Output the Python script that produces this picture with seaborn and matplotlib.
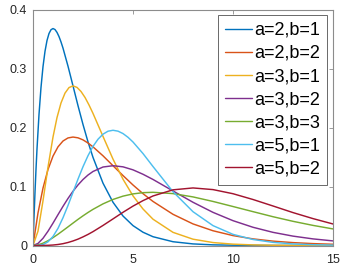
import numpy as np
import pandas as pd
import matplotlib
matplotlib.use("Agg")
import matplotlib.pyplot as plt
import seaborn as sns

# common x grid
x = [0, 0.25, 0.5, 0.75, 1, 1.25, 1.5, 1.75, 2, 2.25, 2.5, 2.75, 3, 3.5, 4, 4.5,
     5, 5.5, 6, 7, 8, 9, 10, 11, 12, 13, 14, 15]

# finer grid for the sharp a=2,b=1 curve
x_a2b1 = [0, 0.05, 0.1, 0.15, 0.2, 0.3, 0.4, 0.5, 0.6, 0.7, 0.8, 0.9, 1.0, 1.1, 1.2,
          1.3, 1.4, 1.5, 1.75, 2, 2.25, 2.5, 2.75, 3, 3.5, 4, 4.5, 5, 5.5, 6, 7, 8,
          9, 10, 12, 15]
a2b1 = [0, 0.0476, 0.0905, 0.1291, 0.1637, 0.2222, 0.2681, 0.3033, 0.3293, 0.3476,
        0.3595, 0.3659, 0.3679, 0.3662, 0.3614, 0.3543, 0.3452, 0.3347, 0.3041,
        0.2707, 0.2371, 0.2052, 0.1757, 0.1494, 0.1057, 0.0733, 0.0500, 0.0337,
        0.0225, 0.0149, 0.0064, 0.0027, 0.0011, 0.0005, 0.0001, 0.0000]

a2b2 = [0, 0.0552, 0.0974, 0.1289, 0.1516, 0.1673, 0.1772, 0.1824, 0.1839, 0.1826,
        0.1791, 0.1738, 0.1673, 0.1521, 0.1353, 0.1186, 0.1026, 0.0879, 0.0747,
        0.0529, 0.0366, 0.0250, 0.0168, 0.0112, 0.0074, 0.0049, 0.0032, 0.0021]

x_a3b1 = [0, 0.25, 0.5, 0.75, 1, 1.2, 1.4, 1.6, 1.8, 2.0, 2.2, 2.4, 2.6, 2.8, 3,
          3.5, 4, 4.5, 5, 5.5, 6, 7, 8, 9, 10, 11, 12, 13, 14, 15]
a3b1 = [0, 0.0243, 0.0758, 0.1329, 0.1839, 0.2169, 0.2417, 0.2584, 0.2678, 0.2707,
        0.2681, 0.2612, 0.2511, 0.2383, 0.2240, 0.1850, 0.1465, 0.1124, 0.0842,
        0.0619, 0.0446, 0.0223, 0.0107, 0.0050, 0.0023, 0.0010, 0.0004, 0.0002,
        0.0001, 0.0000]

a3b2 = [0, 0.0035, 0.0122, 0.0242, 0.0379, 0.0523, 0.0664, 0.0798, 0.0920, 0.1027,
        0.1119, 0.1195, 0.1255, 0.1331, 0.1353, 0.1334, 0.1283, 0.1208, 0.1120,
        0.0925, 0.0733, 0.0562, 0.0421, 0.0309, 0.0223, 0.0159, 0.0112, 0.0078]
a3b3 = [0, 0.0011, 0.0039, 0.0081, 0.0133, 0.0191, 0.0253, 0.0316, 0.0380, 0.0443,
        0.0503, 0.0560, 0.0613, 0.0706, 0.0781, 0.0837, 0.0875, 0.0896, 0.0902,
        0.0880, 0.0824, 0.0747, 0.0661, 0.0574, 0.0488, 0.0410, 0.0341, 0.0281]

x_a5b1 = [0, 0.25, 0.5, 0.75, 1, 1.25, 1.5, 1.75, 2, 2.25, 2.5, 2.75, 3, 3.25, 3.5,
          3.75, 4, 4.25, 4.5, 4.75, 5, 5.5, 6, 7, 8, 9, 10, 11, 12, 13, 14, 15]
a5b1 = [0, 0.0001, 0.0016, 0.0062, 0.0153, 0.0291, 0.0471, 0.0679, 0.0902, 0.1126,
        0.1336, 0.1523, 0.1681, 0.1802, 0.1888, 0.1938, 0.1954, 0.1939, 0.1898,
        0.1835, 0.1755, 0.1559, 0.1339, 0.0912, 0.0573, 0.0337, 0.0189, 0.0102,
        0.0053, 0.0027, 0.0013, 0.0006]

a5b2 = [0, 0.0000, 0.0001, 0.0003, 0.0008, 0.0017, 0.0031, 0.0051, 0.0077, 0.0108,
        0.0146, 0.0188, 0.0235, 0.0340, 0.0451, 0.0563, 0.0668, 0.0761, 0.0840,
        0.0944, 0.0976, 0.0948, 0.0878, 0.0780, 0.0670, 0.0558, 0.0456, 0.0365]

labels = ["a=2,b=1", "a=2,b=2", "a=3,b=1", "a=3,b=2", "a=3,b=3", "a=5,b=1", "a=5,b=2"]
series = [(x_a2b1, a2b1), (x, a2b2), (x_a3b1, a3b1), (x, a3b2), (x, a3b3),
          (x_a5b1, a5b1), (x, a5b2)]

xticks = [0, 5, 10, 15]
yticks = [0, 0.1, 0.2, 0.3, 0.4]
ytick_labels = ["0", "0.1", "0.2", "0.3", "0.4"]

colors = ["#0072BD", "#D95319", "#EDB120", "#7E2F8E", "#77AC30", "#4DBEEE", "#A2142F"]

df = pd.concat([pd.DataFrame({"x": xs, "y": ys, "label": l})
                for (xs, ys), l in zip(series, labels)], ignore_index=True)

sns.set_style("white")
plt.rcParams["font.family"] = ["Liberation Sans", "DejaVu Sans"]

fig = plt.figure(figsize=(3.46, 2.73), dpi=100)
ax = fig.add_axes([33 / 346, 1 - 245.5 / 273, 300 / 346, 236 / 273])

sns.lineplot(data=df, x="x", y="y", hue="label", hue_order=labels, palette=colors,
             linewidth=1.05, ax=ax, legend=True, sort=False, estimator=None)

ax.set_xlim(0, 15)
ax.set_ylim(0, 0.4002)
ax.set_xticks(xticks)
ax.set_xticklabels([str(t) for t in xticks])
ax.set_yticks(yticks)
ax.set_yticklabels(ytick_labels)
ax.set_xlabel("")
ax.set_ylabel("")

edge = "#8c8c8c"
for sp in ax.spines.values():
    sp.set_visible(True)
    sp.set_color(edge)
    sp.set_linewidth(0.8)
ax.tick_params(direction="in", length=3, width=0.6, color=edge, labelcolor="#262626",
               labelsize=9, top=True, right=True)
ax.tick_params(axis="x", pad=6)
ax.tick_params(axis="y", pad=4.3)

leg = ax.legend(loc="upper right", bbox_to_anchor=(326.7 / 346, 1 - 15 / 273),
                bbox_transform=fig.transFigure, fontsize=13, frameon=True,
                fancybox=False, borderaxespad=0, handlelength=1.5, handletextpad=0.11,
                labelspacing=0.34, borderpad=0.38)
leg.get_frame().set_edgecolor("#262626")
leg.get_frame().set_linewidth(0.6)
for t in leg.get_texts():
    t.set_color("#000000")
for h in leg.get_lines():
    h.set_linewidth(1.0)

fig.text(0.5, 0.5, " ", fontsize=5)
fig.canvas.draw()
fig.savefig("out.png", dpi=100)
